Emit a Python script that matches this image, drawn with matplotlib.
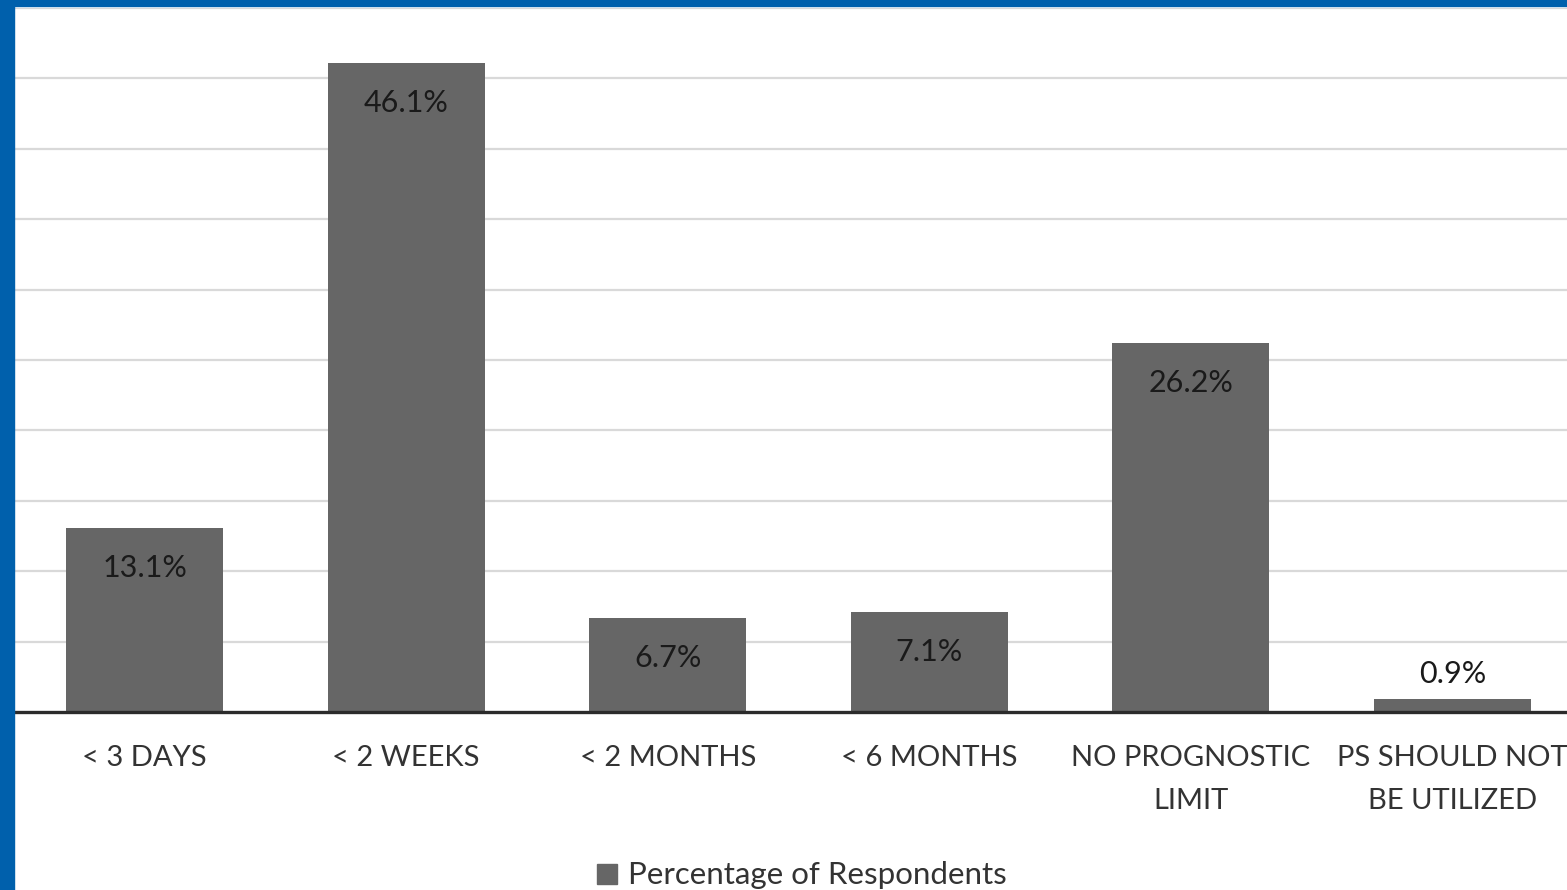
import matplotlib.pyplot as plt
from matplotlib.patches import Rectangle

categories = ['< 3 DAYS', '< 2 WEEKS', '< 2 MONTHS', '< 6 MONTHS',
              'NO PROGNOSTIC\nLIMIT', 'PS SHOULD NOT\nBE UTILIZED']
percentages = [13.1, 46.1, 6.7, 7.1, 26.2, 0.9]
gridlines = [5, 10, 15, 20, 25, 30, 35, 40, 45, 50]

W, H = 1567, 890
plt.rcParams['font.family'] = ['Lato', 'DejaVu Sans']

fig = plt.figure(figsize=(W / 100, H / 100), dpi=100)
fig.patch.set_facecolor('white')

# plot area runs past the right edge so the last category is clipped
ax = fig.add_axes([14 / W, 178 / H, 1569 / W, 704 / H])
ax.set_xlim(-0.5, len(categories) - 0.5)
ax.set_ylim(0, 50)

for y in gridlines:
    ax.axhline(y, color='#d9d9d9', linewidth=1.6, zorder=0)

x = range(len(categories))
bars = ax.bar(x, percentages, width=0.6, color='#666666', zorder=2)

for xi, v in zip(x, percentages):
    if v > 3:
        ax.annotate(f'{v}%', (xi, v), xytext=(0, -29), textcoords='offset points',
                    ha='center', va='center', fontsize=22, color='#1a1a1a')
    else:
        ax.annotate(f'{v}%', (xi, v), xytext=(0, 18), textcoords='offset points',
                    ha='center', va='center', fontsize=22, color='#1a1a1a')

ax.set_xticks(list(x))
ax.set_xticklabels(categories, fontsize=21, color='#333333', linespacing=1.8)
ax.tick_params(axis='x', length=0, pad=24)
ax.set_yticks([])
for side in ['left', 'right', 'top']:
    ax.spines[side].set_visible(False)
ax.spines['bottom'].set_color('#2b2b2b')
ax.spines['bottom'].set_linewidth(2.4)
ax.spines['bottom'].set_zorder(3)

# legend entry at the bottom
fig.patches.append(Rectangle((597 / W, 1 - 884 / H), 20 / W, 20 / H,
                             transform=fig.transFigure, color='#666666'))
fig.text(628 / W, 1 - 875 / H, 'Percentage of Respondents', fontsize=22.5,
         color='#333333', ha='left', va='center')

# blue frame along left and top edges
fig.patches.append(Rectangle((0, 0), 14 / W, 1, transform=fig.transFigure,
                             color='#0060ac', zorder=10))
fig.patches.append(Rectangle((0, 1 - 6 / H), 1, 6 / H, transform=fig.transFigure,
                             color='#0060ac', zorder=10))

fig.savefig('out.png', dpi=100)
